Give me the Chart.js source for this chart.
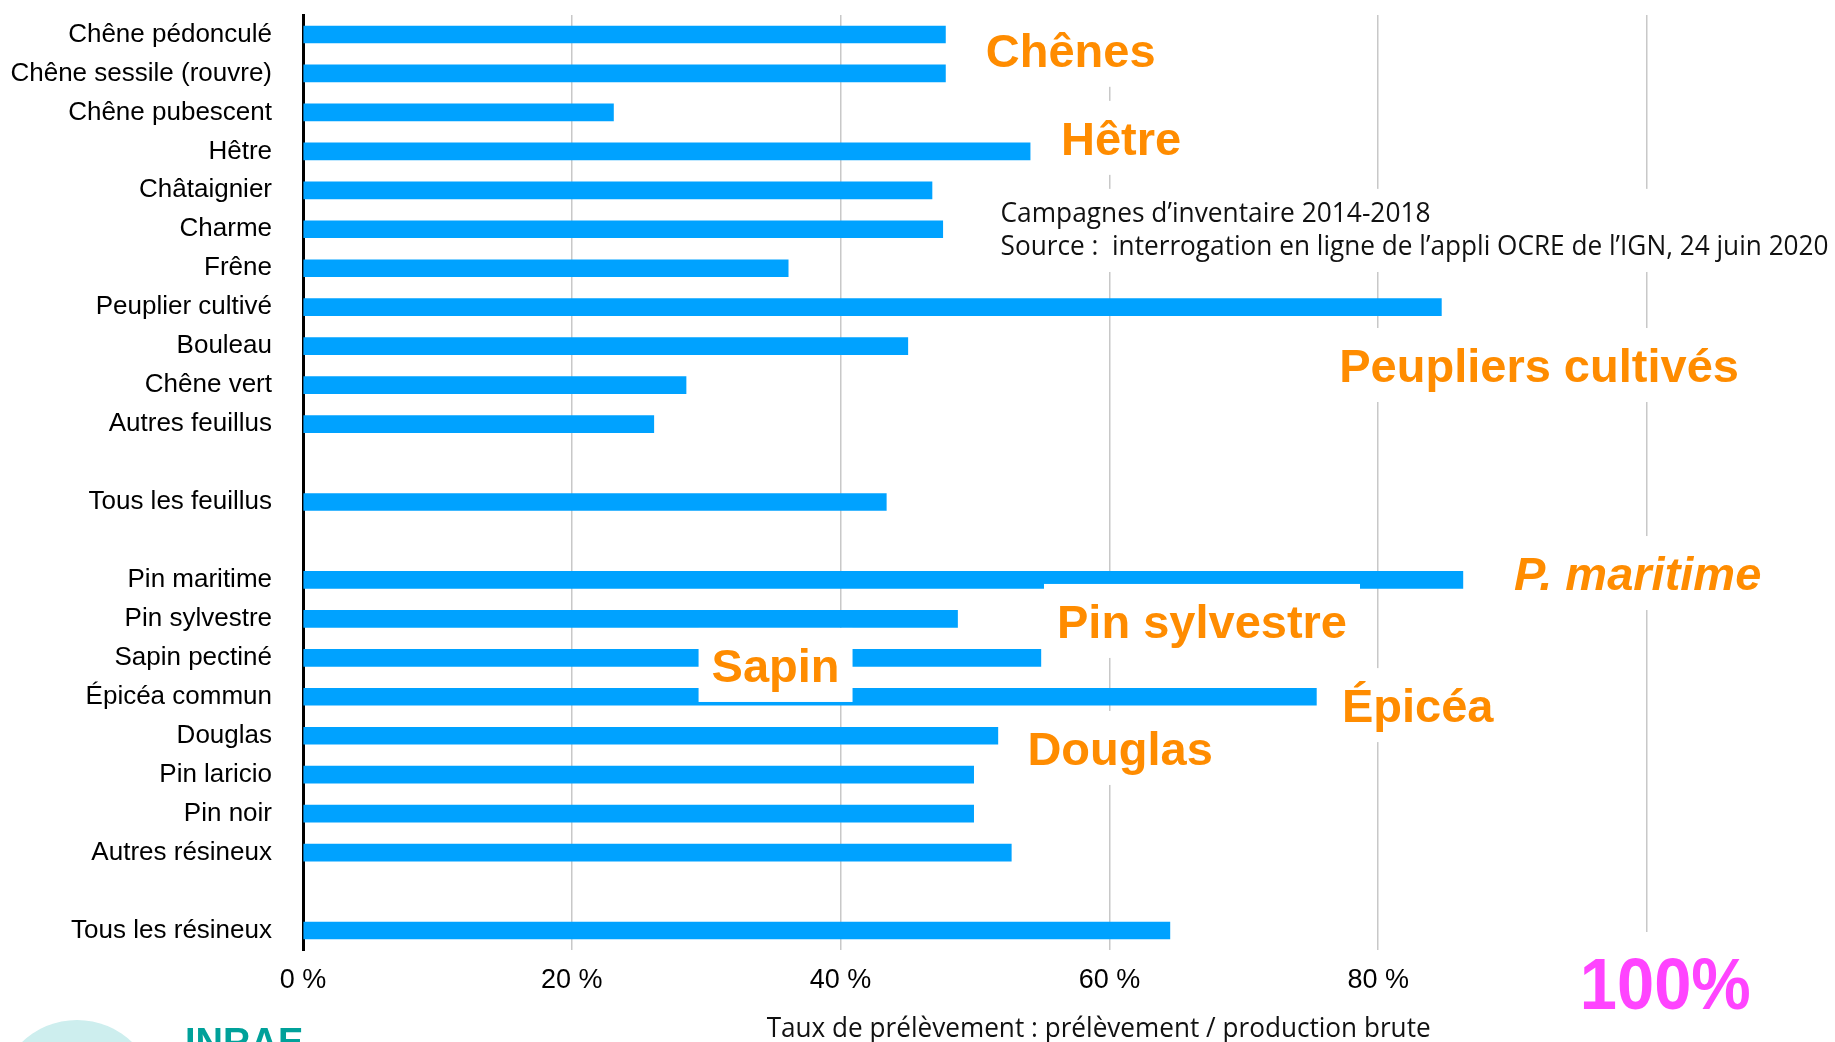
<!DOCTYPE html>
<html lang="fr">
<head>
<meta charset="utf-8">
<title>Taux de prélèvement par essence</title>
<script src="https://cdn.jsdelivr.net/npm/chart.js@4.4.1/dist/chart.umd.min.js"></script>
<style>
  html, body { margin: 0; padding: 0; background: #fff; overflow: hidden; }
  #cadre { position: relative; width: 1835px; height: 1042px; }
  #logoRond { position: absolute; left: -3px; top: 1020px; width: 160px; height: 160px; border-radius: 50%; background: #cdeeee; }
  #logoTexte { position: absolute; left: 185px; top: 1023px; font: bold 38px/38px "Liberation Sans", Arial, sans-serif; color: #00a19a; }
</style>
</head>
<body>
<div id="cadre">
  <canvas id="graphe"></canvas>
  <div id="logoRond"></div>
  <div id="logoTexte">INRAE</div>
</div>
<script>
// essences (lignes vides = séparation entre groupes)
var essences = [
  'Chêne pédonculé', 'Chêne sessile (rouvre)', 'Chêne pubescent', 'Hêtre', 'Châtaignier',
  'Charme', 'Frêne', 'Peuplier cultivé', 'Bouleau', 'Chêne vert', 'Autres feuillus',
  '', 'Tous les feuillus', '',
  'Pin maritime', 'Pin sylvestre', 'Sapin pectiné', 'Épicéa commun', 'Douglas',
  'Pin laricio', 'Pin noir', 'Autres résineux', '', 'Tous les résineux'
];

// taux de prélèvement (%)
var taux = [
  47.8, 47.8, 23.1, 54.1, 46.8,
  47.6, 36.1, 84.7, 45.0, 28.5, 26.1,
  null, 43.4, null,
  86.3, 48.7, 54.9, 75.4, 51.7,
  49.9, 49.9, 52.7, null, 64.5
];

var graduations = [0, 20, 40, 60, 80, 100];

var titreAxe = 'Taux de prélèvement : prélèvement / production brute';
var source = [
  'Campagnes d’inventaire 2014-2018',
  'Source :  interrogation en ligne de l’appli OCRE de l’IGN, 24 juin 2020'
];

// étiquettes orange : x en %, ligne = indice de catégorie (ligne de base du texte)
var etiquettes = [
  { texte: 'Chênes', x: 50.8, ligne: 0.83 },
  { texte: 'Hêtre', x: 56.4, ligne: 3.09 },
  { texte: 'Peupliers cultivés', x: 77.1, ligne: 8.92 },
  { texte: 'P. maritime', x: 90.1, ligne: 14.26, italique: true },
  { texte: 'Pin sylvestre', x: 56.1, ligne: 15.49 },
  { texte: 'Sapin', x: 30.4, ligne: 16.62 },
  { texte: 'Épicéa', x: 77.3, ligne: 17.65 },
  { texte: 'Douglas', x: 53.9, ligne: 18.75 }
];

var police = '"Liberation Sans", Arial, sans-serif';

// petit utilitaire façon lodash
var _ = { each: function (arr, fn) { arr.forEach(fn); } };

var pluginEtiquettes = {
  id: 'etiquettes',
  afterDraw: function (chart) {
    var ctx = chart.ctx,
        sx = chart.scales.x,
        sy = chart.scales.y,
        area = chart.chartArea;

    ctx.save();
    ctx.textAlign = 'left';
    ctx.textBaseline = 'alphabetic';

    // bloc source
    var xs = sx.getPixelForValue(51.9),
        y1 = sy.getPixelForValue(4.81),
        y2 = sy.getPixelForValue(5.66);
    ctx.fillStyle = '#fff';
    ctx.fillRect(xs - 11, y1 - 33, chart.width - xs + 11, y2 - y1 + 50);
    ctx.fillStyle = '#111';
    ctx.font = '28px "Open Sans", sans-serif';
    ctx.fillText(source[0], xs, y1, 430);
    ctx.fillText(source[1], xs, y2, 828);

    // étiquettes orange sur fond blanc
    _.each(etiquettes, function (e) {
      var fs = 47;
      ctx.font = (e.italique ? 'italic ' : '') + 'bold ' + fs + 'px ' + police;
      var x = sx.getPixelForValue(e.x),
          y = sy.getPixelForValue(e.ligne),
          w = ctx.measureText(e.texte).width;
      ctx.fillStyle = '#fff';
      ctx.fillRect(x - 13, y - 54, w + 26, 74);
      ctx.fillStyle = '#ff8c00';
      ctx.fillText(e.texte, x, y);
    });

    // 100 %
    var x100 = sx.getPixelForValue(95);
    ctx.fillStyle = '#fff';
    ctx.fillRect(x100 - 13, area.bottom - 18, 200, chart.height);
    ctx.fillStyle = '#ff44ff';
    ctx.font = 'bold 72px ' + police;
    ctx.fillText('100%', x100, sx.bottom - 33, 171);

    // titre de l'axe
    ctx.fillStyle = '#111';
    ctx.textAlign = 'center';
    ctx.font = '28px "Open Sans", sans-serif';
    ctx.fillText(titreAxe, sx.getPixelForValue(59.2), sx.bottom - 5, 664);
    ctx.restore();
  }
};

var ctxGraphe = document.getElementById('graphe').getContext('2d');

var chartBarres = new Chart(ctxGraphe, {
  type: 'bar',
  data: {
    labels: essences,
    datasets: [{
      data: taux,
      backgroundColor: '#00a2ff',
      borderWidth: 0,
      barThickness: 17
    }]
  },
  options: {
    indexAxis: 'y',
    responsive: true,
    maintainAspectRatio: false,
    animation: false,
    layout: {
      padding: { left: 0, right: 188, top: 15, bottom: 0 }
    },
    scales: {
      x: {
        min: 0,
        max: 100,
        afterFit: function (scale) { scale.height = 92; },
        afterBuildTicks: function (scale) {
          scale.ticks = graduations.map(function (v) { return { value: v }; });
        },
        ticks: {
          color: '#000',
          font: { family: police, size: 27 },
          padding: 14,
          maxRotation: 0,
          autoSkip: false,
          callback: function (v) { return v === 100 ? '' : v + ' %'; }
        },
        grid: {
          color: '#c8c8c8',
          lineWidth: 1.5,
          drawTicks: false
        },
        border: { display: false }
      },
      y: {
        afterFit: function (scale) {
          scale.width = 303;
          scale.paddingTop = 0;
          scale.paddingBottom = 0;
        },
        ticks: {
          color: '#000',
          font: { family: police, size: 26 },
          padding: 31,
          autoSkip: false
        },
        grid: { display: false, drawTicks: false },
        border: { display: true, color: '#000', width: 3 }
      }
    },
    plugins: {
      legend: { display: false },
      tooltip: { enabled: false }
    }
  },
  plugins: [pluginEtiquettes]
});
</script>
</body>
</html>
